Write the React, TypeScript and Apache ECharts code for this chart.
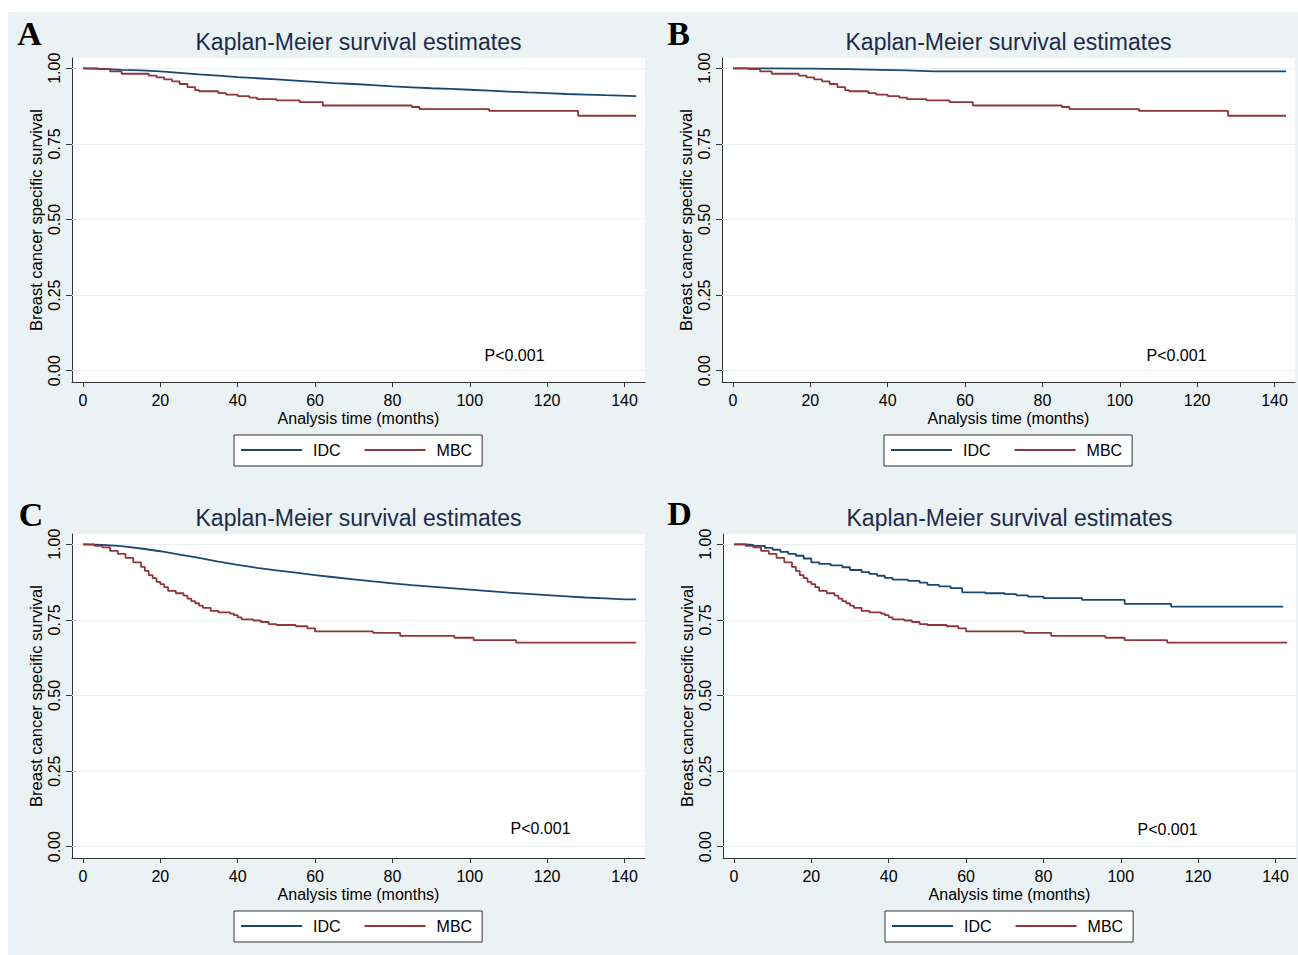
import React, { useEffect, useRef } from "react";
import * as echarts from "echarts";

// ---- data (months, survival probability) ----
const X_TICKS = [0, 20, 40, 60, 80, 100, 120, 140];
const Y_TICKS = [0, 0.25, 0.5, 0.75, 1];
const SERIES_NAMES = ["IDC", "MBC"];
const PANEL_LETTERS = ["A", "B", "C", "D"];
const TITLE = "Kaplan-Meier survival estimates";
const P_TEXT = "P<0.001";

const A_IDC = [
  [0, 1], [5, 0.998], [10, 0.995], [15, 0.993], [20, 0.99], [25, 0.985], [30, 0.98],
  [35, 0.976], [40, 0.971], [45, 0.967], [50, 0.963], [55, 0.959], [60, 0.955],
  [65, 0.951], [70, 0.948], [75, 0.944], [80, 0.94], [85, 0.937], [90, 0.934],
  [95, 0.932], [100, 0.929], [105, 0.926], [110, 0.923], [115, 0.92], [120, 0.918],
  [125, 0.915], [130, 0.913], [135, 0.911], [143, 0.908],
];

const B_IDC = [
  [0, 1], [20, 0.999], [30, 0.997], [38, 0.995], [45, 0.993], [52, 0.99], [143, 0.99],
];

const MBC_AB = [
  [0, 1], [4, 0.997], [7, 0.99], [10, 0.982], [17, 0.976], [19, 0.97], [21, 0.963],
  [23, 0.957], [25, 0.948], [27, 0.938], [29, 0.928], [30, 0.924], [35, 0.918],
  [37, 0.913], [40, 0.908], [43, 0.903], [45, 0.898], [50, 0.894], [56, 0.888],
  [62, 0.877], [85, 0.872], [87, 0.865], [105, 0.859], [128, 0.843], [143, 0.843],
];

const C_IDC = [
  [0, 1], [5, 0.998], [10, 0.994], [15, 0.986], [20, 0.977], [25, 0.966], [30, 0.955],
  [35, 0.943], [40, 0.932], [45, 0.922], [50, 0.914], [55, 0.906], [60, 0.898],
  [65, 0.891], [70, 0.884], [75, 0.877], [80, 0.871], [85, 0.865], [90, 0.86],
  [95, 0.855], [100, 0.85], [105, 0.845], [110, 0.84], [115, 0.836], [120, 0.832],
  [125, 0.828], [130, 0.824], [135, 0.821], [140, 0.818], [143, 0.818],
];

const D_IDC = [
  [0, 1], [3, 0.998], [5, 0.995], [8, 0.988], [10, 0.982], [12, 0.975], [14, 0.968],
  [16, 0.962], [18, 0.953], [20, 0.94], [22, 0.935], [25, 0.93], [28, 0.924],
  [30, 0.915], [33, 0.908], [35, 0.902], [37, 0.896], [39, 0.889], [41, 0.883],
  [45, 0.879], [48, 0.873], [50, 0.866], [53, 0.861], [56, 0.855], [59, 0.841],
  [65, 0.838], [70, 0.835], [73, 0.831], [76, 0.827], [80, 0.822], [90, 0.816],
  [101, 0.803], [113, 0.794], [142, 0.794],
];

const MBC_CD = [
  [0, 1], [3, 0.995], [5, 0.99], [7, 0.978], [9, 0.968], [11, 0.955], [13, 0.94],
  [15, 0.925], [16, 0.912], [17, 0.898], [18, 0.888], [19, 0.876], [20, 0.868],
  [21, 0.858], [22, 0.846], [24, 0.838], [26, 0.83], [27, 0.82], [28, 0.812],
  [29, 0.805], [30, 0.797], [31, 0.79], [33, 0.78], [35, 0.775], [38, 0.771],
  [39, 0.766], [40, 0.758], [41, 0.752], [44, 0.748], [46, 0.743], [48, 0.736],
  [50, 0.733], [55, 0.729], [58, 0.722], [60, 0.712], [75, 0.707], [82, 0.697],
  [96, 0.691], [101, 0.683], [112, 0.675], [143, 0.675],
];

const PANEL_DATA = [
  [A_IDC, MBC_AB],
  [B_IDC, MBC_AB],
  [C_IDC, MBC_CD],
  [D_IDC, MBC_CD],
];

// ---- layout / style ----
const FONT = "'Liberation Sans', Arial, Helvetica, sans-serif";
const BG = "#eaf2f3";
const NAVY = "#1a476f";
const MAROON = "#90353b";
const AXIS = "#333333";
// dense IDC curves look smooth in the reference; sparse ones show steps
const STEPPED = [
  [false, true],
  [false, true],
  [false, true],
  [true, true],
];
const OFFSETS = [
  { ox: 0, oy: 0, letter: [29.5, 33], p: [514.5, 355] },
  { ox: 650, oy: 0, letter: [678.5, 33], p: [1176.5, 355] },
  { ox: 0, oy: 476, letter: [31, 514], p: [540.5, 828] },
  { ox: 651, oy: 476, letter: [679.5, 513], p: [1167.5, 829] },
];

export default function App() {
  const ref = useRef<HTMLDivElement>(null);

  useEffect(() => {
    if (!ref.current) return;
    const chart = echarts.init(ref.current, null, { renderer: "svg" });

    const grids = OFFSETS.map((o) => ({
      left: 72 + o.ox,
      top: 58 + o.oy,
      width: 573,
      height: 324,
      show: true,
      backgroundColor: "#ffffff",
      borderWidth: 0,
    }));

    const xAxes = OFFSETS.map((_, i) => ({
      type: "value",
      gridIndex: i,
      min: -2.84,
      max: 145.3,
      axisLine: { show: true, onZero: false, lineStyle: { color: AXIS, width: 1 } },
      axisTick: { show: true, customValues: X_TICKS, length: 5, lineStyle: { color: AXIS } },
      axisLabel: { customValues: X_TICKS, margin: 10, fontSize: 16, color: "#000", fontFamily: FONT },
      splitLine: { show: false },
      name: "Analysis time (months)",
      nameLocation: "middle",
      nameGap: 28,
      nameTextStyle: { fontSize: 16, color: "#000", fontFamily: FONT },
    }));

    const yAxes = OFFSETS.map((_, i) => ({
      type: "value",
      gridIndex: i,
      min: -0.0374,
      max: 1.034,
      axisLine: { show: true, onZero: false, lineStyle: { color: AXIS, width: 1 } },
      axisTick: { show: true, customValues: Y_TICKS, length: 6, lineStyle: { color: AXIS } },
      axisLabel: {
        customValues: Y_TICKS,
        rotate: 90,
        margin: 10,
        fontSize: 16,
        color: "#000",
        fontFamily: FONT,
        formatter: (v: number) => v.toFixed(2),
      },
      splitLine: { show: false },
      name: "Breast cancer specific survival",
      nameLocation: "middle",
      nameRotate: 90,
      nameGap: 28,
      nameTextStyle: { fontSize: 16.5, color: "#000", fontFamily: FONT },
    }));

    const series: any[] = [];
    PANEL_DATA.forEach((pair, i) => {
      pair.forEach((data, k) => {
        const color = k === 0 ? NAVY : MAROON;
        const s: any = {
          type: "line",
          name: SERIES_NAMES[k],
          xAxisIndex: i,
          yAxisIndex: i,
          data,
          step: STEPPED[i][k] ? "end" : false,
          symbol: "none",
          color,
          itemStyle: { color },
          lineStyle: { color, width: 1.8 },
          z: 3,
        };
        if (k === 0) {
          s.markLine = {
            silent: true,
            symbol: "none",
            z: 1,
            label: { show: false },
            lineStyle: { color: "#e6eef0", width: 1, type: "solid" },
            data: Y_TICKS.map((v) => ({ yAxis: v })),
          };
        }
        series.push(s);
      });
    });

    const legends = OFFSETS.map((o) => ({
      left: 234 + o.ox,
      top: 435 + o.oy,
      orient: "horizontal",
      data: SERIES_NAMES,
      icon: "rect",
      itemWidth: 61,
      itemHeight: 2,
      itemGap: 24,
      padding: [7, 10, 8, 7],
      backgroundColor: "#ffffff",
      borderColor: AXIS,
      borderWidth: 1,
      borderRadius: 0,
      selectedMode: false,
      textStyle: { fontSize: 16, color: "#000", fontFamily: FONT, padding: [1, 0, 0, 6] },
    }));

    const graphics: any[] = [
      { type: "rect", shape: { x: 0, y: 0, width: 1298, height: 12 }, style: { fill: "#ffffff" }, silent: true },
      { type: "rect", shape: { x: 0, y: 0, width: 8, height: 955 }, style: { fill: "#ffffff" }, silent: true },
    ];
    OFFSETS.forEach((o, i) => {
      graphics.push({
        type: "text",
        x: o.letter[0],
        y: o.letter[1],
        style: {
          text: PANEL_LETTERS[i],
          font: "bold 34px 'Liberation Serif', 'Times New Roman', serif",
          fill: "#000",
          textAlign: "center",
          textVerticalAlign: "middle",
        },
      });
      graphics.push({
        type: "text",
        x: 358.5 + o.ox,
        y: 42 + o.oy,
        style: {
          text: TITLE,
          font: `23px ${FONT}`,
          fill: "#1c2b4d",
          textAlign: "center",
          textVerticalAlign: "middle",
        },
      });
      graphics.push({
        type: "text",
        x: o.p[0],
        y: o.p[1],
        style: {
          text: P_TEXT,
          font: `16px ${FONT}`,
          fill: "#000",
          textAlign: "center",
          textVerticalAlign: "middle",
        },
      });
    });

    chart.setOption({
      animation: false,
      backgroundColor: BG,
      textStyle: { fontFamily: FONT },
      grid: grids,
      xAxis: xAxes,
      yAxis: yAxes,
      legend: legends,
      series,
      graphic: { elements: graphics },
    });

    return () => chart.dispose();
  }, []);

  return (
    <div
      ref={ref}
      style={{ position: "absolute", left: 0, top: 0, width: 1298, height: 955 }}
    />
  );
}
